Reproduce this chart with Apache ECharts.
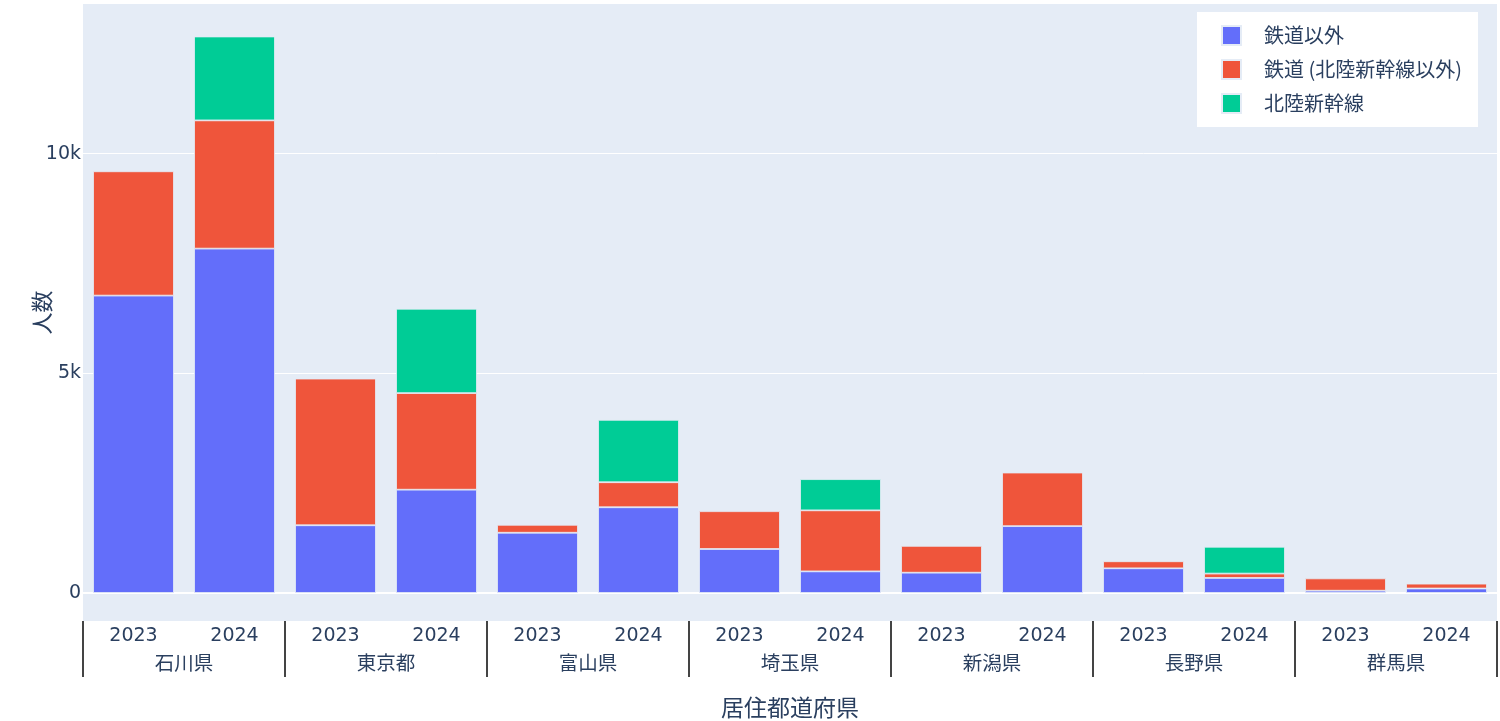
<!DOCTYPE html>
<html>
<head>
<meta charset="utf-8">
<script src="https://cdn.jsdelivr.net/npm/echarts@6/dist/echarts.min.js"></script>
<style>
html,body{margin:0;padding:0;background:#fff;}
#chart{width:1500px;height:721px;}
</style>
</head>
<body>
<div id="chart"></div>
<script>
const prefectures = ['石川県','東京都','富山県','埼玉県','新潟県','長野県','群馬県'];
const years = ['2023','2024'];
const seriesNames = ['鉄道以外','鉄道 (北陸新幹線以外)','北陸新幹線'];
const nonRail      = [6770, 7840, 1540, 2350, 1370, 1950, 1000, 490, 460, 1520, 560, 340, 50, 100];
const railOther    = [2830, 2920, 3340, 2200, 180, 570, 860, 1390, 610, 1220, 160, 100, 280, 110];
const shinkansen   = [null, 1910, null, 1920, null, 1420, null, 710, null, null, null, 610, null, null];
const yTicks = [0, 5000, 10000];

const categories = [];
prefectures.forEach(p => years.forEach(y => categories.push(p + '-' + y)));

const font = "'DejaVu Sans', 'Noto Sans CJK JP', sans-serif";
const cjk = "'Noto Sans CJK JP', 'DejaVu Sans', sans-serif";
const txt = '#2a3f5f';
const colors = ['#636efa', '#EF553B', '#00cc96'];

const chart = echarts.init(document.getElementById('chart'));
const barStyle = c => ({ color: c, borderColor: '#E5ECF6', borderWidth: 0.8 });
chart.setOption({
  animation: false,
  backgroundColor: '#fff',
  grid: { left: 83, right: 3, top: 4, bottom: 100, show: true, backgroundColor: '#E5ECF6', borderWidth: 0,
    containLabel: false, outerBoundsMode: 'none' },
  legend: {
    data: seriesNames,
    orient: 'vertical',
    right: 22, top: 12,
    backgroundColor: '#fff',
    padding: [13, 16, 13, 24],
    itemWidth: 19, itemHeight: 19, itemGap: 13,
    icon: 'rect',
    textStyle: { fontFamily: cjk, fontSize: 20, color: txt, padding: [0, 0, 0, 18] }
  },
  xAxis: [
    {
      type: 'category', data: categories, gridIndex: 0, position: 'bottom', offset: 0,
      axisLine: { show: false }, axisTick: { show: false },
      axisLabel: { interval: 0, margin: 6, fontFamily: font, fontSize: 19, color: txt,
        formatter: v => v.split('-')[1] }
    },
    {
      type: 'category', data: prefectures, gridIndex: 0, position: 'bottom', offset: 0,
      axisLine: { show: false },
      axisTick: { show: true, interval: 0, length: 56, lineStyle: { color: '#444', width: 2 } },
      axisLabel: { interval: 0, margin: 32, fontFamily: cjk, fontSize: 19.5, color: txt },
      name: '居住都道府県', nameLocation: 'middle', nameGap: 75, nameMoveOverlap: false,
      nameTextStyle: { fontFamily: cjk, fontSize: 23, color: txt }
    }
  ],
  yAxis: {
    type: 'value', min: -640, max: 13410,
    axisLine: { show: false }, axisTick: { show: false }, splitLine: { show: false },
    axisLabel: { customValues: yTicks, margin: 2, fontFamily: font, fontSize: 19, color: txt,
      formatter: v => v === 0 ? '0' : (v / 1000) + 'k' },
    name: '人数', nameLocation: 'middle', nameGap: 30, nameMoveOverlap: false,
    nameTextStyle: { fontFamily: cjk, fontSize: 22, color: txt }
  },
  series: [
    {
      type: 'line', data: [], z: 1, silent: true, xAxisIndex: 0,
      markLine: {
        z: 1, silent: true, symbol: 'none', label: { show: false },
        lineStyle: { color: '#fff', width: 1, type: 'solid' },
        data: yTicks.map(v => ({ yAxis: v, lineStyle: { color: '#fff', width: v === 0 ? 2 : 1, type: 'solid' } }))
      }
    },
    { name: seriesNames[0], type: 'bar', stack: 's', z: 3, xAxisIndex: 0, data: nonRail, barCategoryGap: '20%', itemStyle: barStyle(colors[0]) },
    { name: seriesNames[1], type: 'bar', stack: 's', z: 3, xAxisIndex: 0, data: railOther, barCategoryGap: '20%', itemStyle: barStyle(colors[1]) },
    { name: seriesNames[2], type: 'bar', stack: 's', z: 3, xAxisIndex: 0, data: shinkansen, barCategoryGap: '20%', itemStyle: barStyle(colors[2]) }
  ]
});
</script>
</body>
</html>
